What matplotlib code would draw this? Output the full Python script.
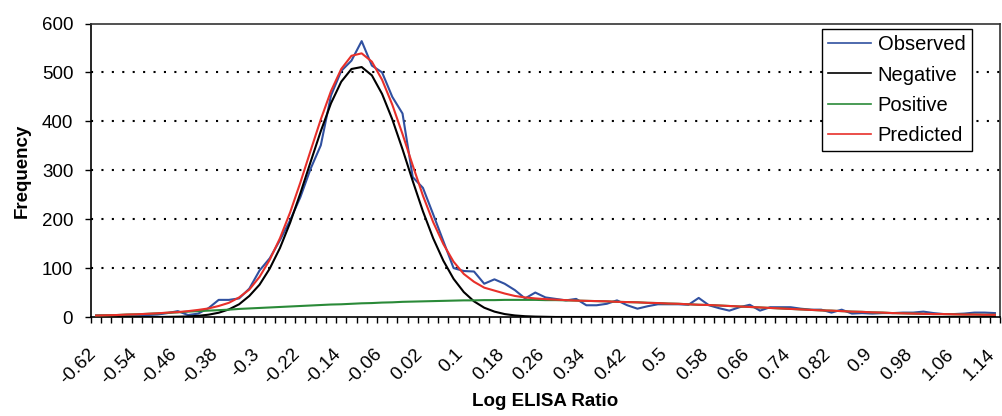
import numpy as np
import matplotlib
matplotlib.use("Agg")
import matplotlib.pyplot as plt
from matplotlib.transforms import ScaledTranslation

plt.rcParams['font.family'] = ['Liberation Sans', 'DejaVu Sans']

# categories: log ELISA ratio from -0.62 to 1.14 in steps of 0.02
categories = np.round(np.arange(-0.62, 1.1401, 0.02), 2)
tick_labels = ['-0.62', '-0.54', '-0.46', '-0.38', '-0.3', '-0.22', '-0.14', '-0.06',
               '0.02', '0.1', '0.18', '0.26', '0.34', '0.42', '0.5', '0.58', '0.66',
               '0.74', '0.82', '0.9', '0.98', '1.06', '1.14']

observed = [3, 3, 3, 4, 3, 4, 5, 8, 12, 4,
            7, 18, 35, 35, 38, 58, 95, 120, 157, 198,
            245, 303, 351, 453, 503, 524, 564, 514, 500, 450,
            416, 286, 264, 210, 155, 100, 94, 93, 68, 77,
            68, 55, 38, 50, 40, 37, 34, 37, 24, 24,
            27, 34, 24, 17, 22, 26, 26, 26, 25, 39,
            24, 18, 13, 20, 25, 13, 20, 20, 20, 17,
            15, 15, 9, 15, 7, 8, 7, 8, 8, 9,
            9, 11, 8, 6, 6, 7, 9, 9, 8]

negative = [0, 0, 0, 0, 0, 0, 0, 0.3, 0.6, 1.2,
            2.4, 4.7, 8.7, 15.5, 26, 43, 66, 99, 141, 193,
            253, 317, 380, 437, 481, 507, 511, 494, 456, 404,
            343, 278, 216, 161, 115, 78, 51, 32, 19, 11,
            6, 3.2, 1.6, 0.8, 0.4, 0, 0, 0, 0, 0,
            0, 0, 0, 0, 0, 0, 0, 0, 0, 0,
            0, 0, 0, 0, 0, 0, 0, 0, 0, 0,
            0, 0, 0, 0, 0, 0, 0, 0, 0, 0,
            0, 0, 0, 0, 0, 0, 0, 0, 0]

positive = [3, 3.5, 4, 5, 5.5, 6.5, 7.5, 8.5, 9.5, 11,
            12, 13, 14, 15, 16.5, 17.5, 18.5, 19.5, 20.5, 21.5,
            22.5, 23.5, 24.5, 25.5, 26, 27, 28, 28.5, 29.5, 30,
            31, 31.5, 32, 32.5, 33, 33.5, 34, 34, 34.5, 34.5,
            35, 35, 35, 35, 34.5, 34.5, 34, 33.5, 33, 32.5,
            32, 31, 30.5, 30, 29, 28.5, 27.5, 27, 26, 25,
            24.5, 23.5, 22.5, 21.5, 20.5, 19.5, 18.5, 17.5, 16.5, 15.5,
            14.5, 13.5, 13, 12, 11, 10.5, 9.5, 9, 8, 7.5,
            7, 6.5, 6, 6, 5.5, 5, 5, 4.5, 4.5]

predicted = [3, 3.5, 4, 5, 5.5, 6.5, 7.5, 9, 10, 12,
             14.5, 17.5, 22.5, 29, 40, 56, 82, 117, 161, 214,
             275, 340, 404, 462, 507, 534, 539, 522, 485, 434,
             374, 310, 248, 194, 149, 113, 88, 72, 60, 54,
             48, 43, 40, 38, 36.5, 35.5, 34.5, 33.5, 33, 32.5,
             32, 31, 30.5, 30, 29, 28.5, 27.5, 27, 26, 25,
             24.5, 23.5, 22.5, 21.5, 20.5, 19.5, 18.5, 17.5, 16.5, 15.5,
             14.5, 13.5, 13, 12, 11, 10.5, 9.5, 9, 8, 7.5,
             7, 6.5, 6, 6, 5.5, 5, 5, 4.5, 4.5]

FS = 13.5
fig = plt.figure(figsize=(10.03, 4.16), dpi=100)
ax = fig.add_axes([91 / 1003, 1 - 317 / 416, (1000 - 91) / 1003, (317 - 23.5) / 416])

x = np.arange(len(categories))
ax.plot(x, observed, color='#3050A0', lw=1.5, label='Observed', zorder=3)
ax.plot(x, negative, color='black', lw=1.5, label='Negative', zorder=4)
ax.plot(x, positive, color='#2A8A38', lw=1.5, label='Positive', zorder=5)
ax.plot(x, predicted, color='#E8302A', lw=1.5, label='Predicted', zorder=6)

ax.set_xlim(-0.5, len(categories) - 0.5)
ax.set_ylim(0, 600)

# y axis
ax.set_yticks(np.arange(0, 601, 100))
ax.tick_params(axis='y', direction='out', length=4.3, width=1, pad=8.5, labelsize=FS)
for yv in range(100, 600, 100):
    ax.axhline(yv, color='black', lw=1.5, linestyle=(0, (1, 4)), zorder=1)

# x axis: tick marks between categories, labels every 4th category
ax.set_xticks(np.arange(-0.5, len(categories), 1.0), minor=True)
ax.set_xticks(x[::4])
ax.set_xticklabels(tick_labels, rotation=45, ha='right', va='center',
                   rotation_mode='anchor')
ax.tick_params(axis='x', which='major', length=0, pad=25, labelsize=FS)
ax.tick_params(axis='x', which='minor', direction='out', length=4, width=1)
shift = ScaledTranslation(-3 / 100, 0, fig.dpi_scale_trans)
for lab in ax.get_xticklabels():
    lab.set_transform(lab.get_transform() + shift)

for side in ['left', 'bottom']:
    ax.spines[side].set_color('black')
    ax.spines[side].set_linewidth(1.2)
for side in ['top', 'right']:
    ax.spines[side].set_color('#333333')
    ax.spines[side].set_linewidth(1.2)

fig.text(22 / 1003, 1 - 171 / 416, 'Frequency', rotation=90, ha='center', va='center',
         fontsize=FS, fontweight='bold')
fig.text(545 / 1003, 1 - 401 / 416, 'Log ELISA Ratio', ha='center', va='center',
         fontsize=FS, fontweight='bold')

leg = ax.legend(loc='upper right', bbox_to_anchor=(972 / 1003, 1 - 29 / 416),
                bbox_transform=fig.transFigure, borderaxespad=0, fontsize=14.5,
                frameon=True, fancybox=False, framealpha=1, edgecolor='black',
                handlelength=2.1, handletextpad=0.35, labelspacing=0.55,
                borderpad=0.32)
leg.get_frame().set_linewidth(1.0)
for h in leg.get_lines():
    h.set_linewidth(1.2)

fig.savefig('out.png', dpi=100)
